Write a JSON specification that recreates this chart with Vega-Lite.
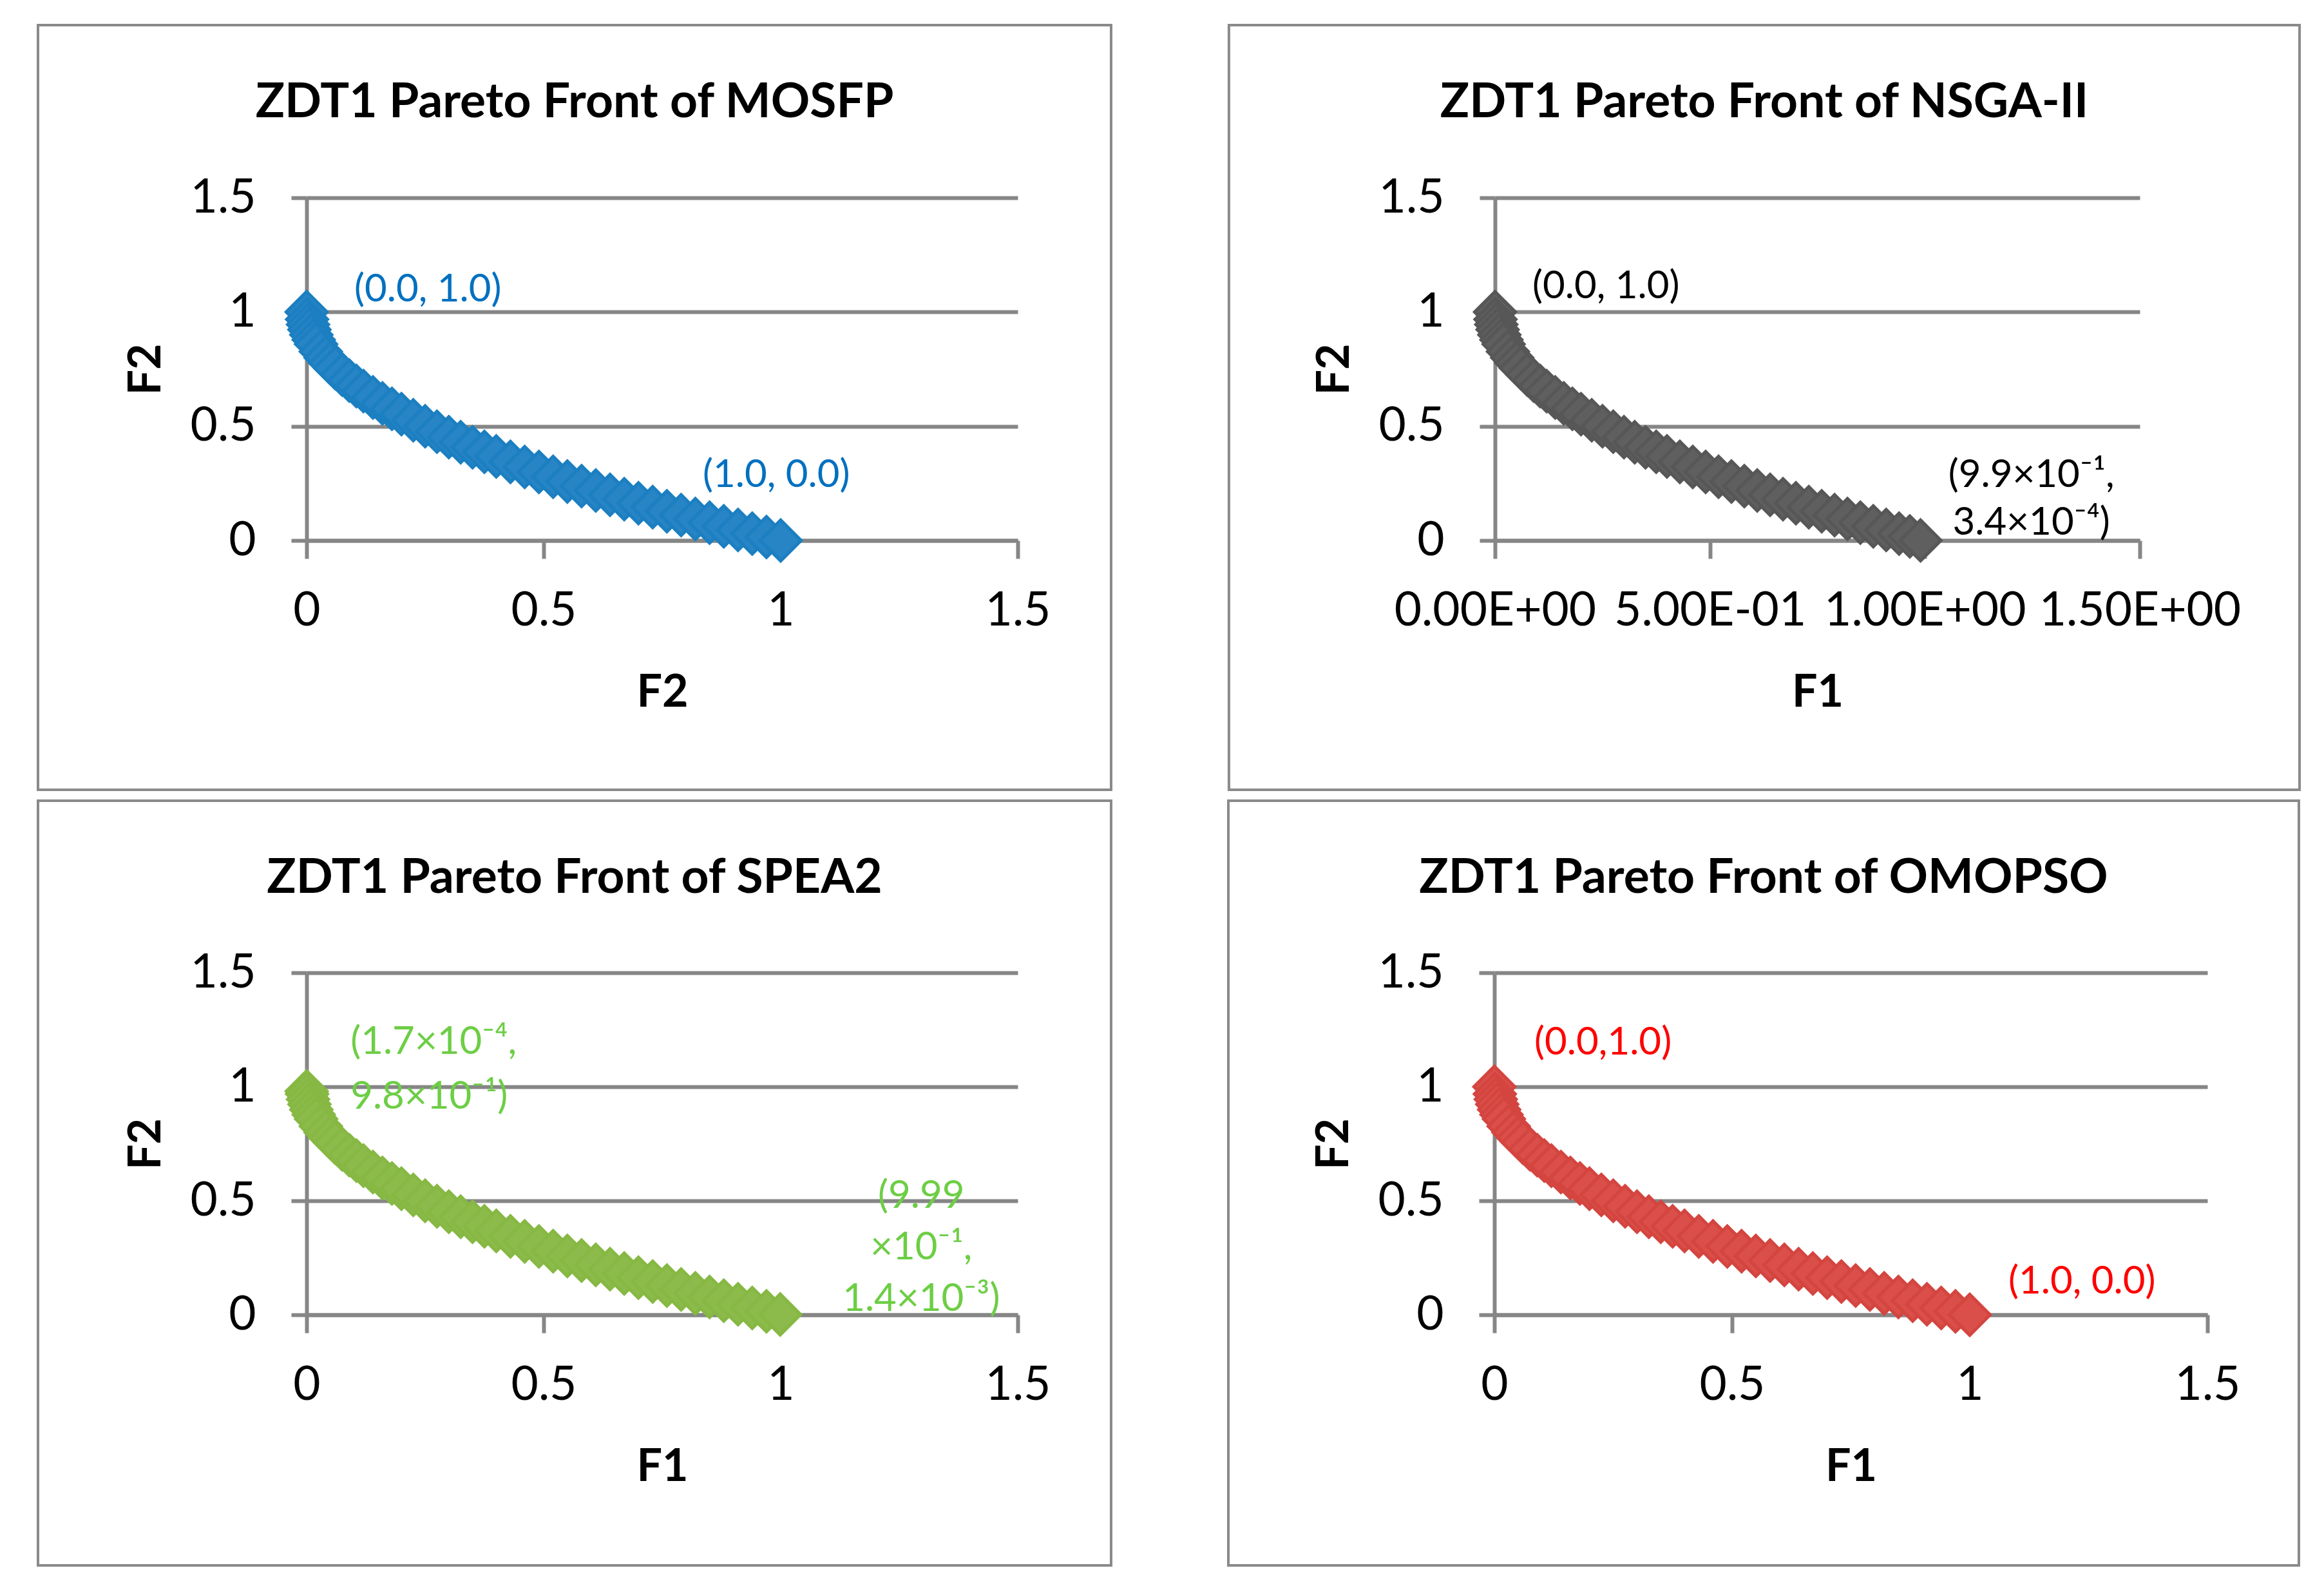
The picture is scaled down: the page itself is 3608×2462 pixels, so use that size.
{
  "$schema": "https://vega.github.io/schema/vega-lite/v6.json",
  "background": "white",
  "padding": {"left": 56, "top": 37, "right": 0, "bottom": 0},
  "config": {
    "view": {"stroke": null},
    "font": "Lato",
    "axis": {
      "domainColor": "#868686", "domainWidth": 6,
      "tickColor": "#868686", "tickWidth": 6,
      "gridColor": "#868686", "gridWidth": 6,
      "labelFont": "Lato", "labelFontSize": 73, "labelColor": "black", "labelLimit": 2000,
      "labelFlush": false, "labelOverlap": false, "labelBound": false,
      "titleFont": "Lato", "titleFontSize": 70, "titleFontWeight": "bold", "titleColor": "black"
    },
    "axisX": {"grid": false, "tickSize": 28, "labelPadding": 45, "titlePadding": 56},
    "axisY": {"grid": true, "tickSize": 24, "labelPadding": 55, "titlePadding": 32},
    "title": {"font": "Lato", "fontSize": 75, "fontWeight": "bold", "color": "black", "anchor": "middle", "frame": "bounds", "baseline": "alphabetic", "offset": -161}
  },
  "datasets": {
    "front": [
      {"alg": "MOSFP", "f1": 0, "f2": 1}, {"alg": "MOSFP", "f1": 0.001, "f2": 0.968}, {"alg": "MOSFP", "f1": 0.003, "f2": 0.945}, {"alg": "MOSFP", "f1": 0.006, "f2": 0.923}, {"alg": "MOSFP", "f1": 0.01, "f2": 0.9}, {"alg": "MOSFP", "f1": 0.015, "f2": 0.878}, {"alg": "MOSFP", "f1": 0.02, "f2": 0.859}, {"alg": "MOSFP", "f1": 0.03, "f2": 0.827}, {"alg": "MOSFP", "f1": 0.04, "f2": 0.8}, {"alg": "MOSFP", "f1": 0.05, "f2": 0.776}, {"alg": "MOSFP", "f1": 0.06, "f2": 0.755}, {"alg": "MOSFP", "f1": 0.075, "f2": 0.726}, {"alg": "MOSFP", "f1": 0.09, "f2": 0.7}, {"alg": "MOSFP", "f1": 0.105, "f2": 0.676}, {"alg": "MOSFP", "f1": 0.12, "f2": 0.654}, {"alg": "MOSFP", "f1": 0.14, "f2": 0.626}, {"alg": "MOSFP", "f1": 0.16, "f2": 0.6}, {"alg": "MOSFP", "f1": 0.18, "f2": 0.576}, {"alg": "MOSFP", "f1": 0.2, "f2": 0.553}, {"alg": "MOSFP", "f1": 0.225, "f2": 0.526}, {"alg": "MOSFP", "f1": 0.25, "f2": 0.5}, {"alg": "MOSFP", "f1": 0.275, "f2": 0.476}, {"alg": "MOSFP", "f1": 0.3, "f2": 0.452}, {"alg": "MOSFP", "f1": 0.325, "f2": 0.43}, {"alg": "MOSFP", "f1": 0.35, "f2": 0.408}, {"alg": "MOSFP", "f1": 0.375, "f2": 0.388}, {"alg": "MOSFP", "f1": 0.4, "f2": 0.368}, {"alg": "MOSFP", "f1": 0.43, "f2": 0.344}, {"alg": "MOSFP", "f1": 0.46, "f2": 0.322}, {"alg": "MOSFP", "f1": 0.49, "f2": 0.3}, {"alg": "MOSFP", "f1": 0.52, "f2": 0.279}, {"alg": "MOSFP", "f1": 0.55, "f2": 0.258}, {"alg": "MOSFP", "f1": 0.58, "f2": 0.238}, {"alg": "MOSFP", "f1": 0.61, "f2": 0.219}, {"alg": "MOSFP", "f1": 0.64, "f2": 0.2}, {"alg": "MOSFP", "f1": 0.67, "f2": 0.181}, {"alg": "MOSFP", "f1": 0.7, "f2": 0.163}, {"alg": "MOSFP", "f1": 0.73, "f2": 0.146}, {"alg": "MOSFP", "f1": 0.76, "f2": 0.128}, {"alg": "MOSFP", "f1": 0.79, "f2": 0.111}, {"alg": "MOSFP", "f1": 0.82, "f2": 0.094}, {"alg": "MOSFP", "f1": 0.85, "f2": 0.078}, {"alg": "MOSFP", "f1": 0.88, "f2": 0.062}, {"alg": "MOSFP", "f1": 0.91, "f2": 0.046}, {"alg": "MOSFP", "f1": 0.94, "f2": 0.03}, {"alg": "MOSFP", "f1": 0.97, "f2": 0.015}, {"alg": "MOSFP", "f1": 1.0, "f2": 0},
      {"alg": "NSGA-II", "f1": 0, "f2": 1}, {"alg": "NSGA-II", "f1": 0.001, "f2": 0.968}, {"alg": "NSGA-II", "f1": 0.003, "f2": 0.945}, {"alg": "NSGA-II", "f1": 0.006, "f2": 0.923}, {"alg": "NSGA-II", "f1": 0.01, "f2": 0.9}, {"alg": "NSGA-II", "f1": 0.015, "f2": 0.878}, {"alg": "NSGA-II", "f1": 0.02, "f2": 0.859}, {"alg": "NSGA-II", "f1": 0.03, "f2": 0.827}, {"alg": "NSGA-II", "f1": 0.04, "f2": 0.8}, {"alg": "NSGA-II", "f1": 0.05, "f2": 0.776}, {"alg": "NSGA-II", "f1": 0.06, "f2": 0.755}, {"alg": "NSGA-II", "f1": 0.075, "f2": 0.726}, {"alg": "NSGA-II", "f1": 0.09, "f2": 0.7}, {"alg": "NSGA-II", "f1": 0.105, "f2": 0.676}, {"alg": "NSGA-II", "f1": 0.12, "f2": 0.654}, {"alg": "NSGA-II", "f1": 0.14, "f2": 0.626}, {"alg": "NSGA-II", "f1": 0.16, "f2": 0.6}, {"alg": "NSGA-II", "f1": 0.18, "f2": 0.576}, {"alg": "NSGA-II", "f1": 0.2, "f2": 0.553}, {"alg": "NSGA-II", "f1": 0.225, "f2": 0.526}, {"alg": "NSGA-II", "f1": 0.25, "f2": 0.5}, {"alg": "NSGA-II", "f1": 0.275, "f2": 0.476}, {"alg": "NSGA-II", "f1": 0.3, "f2": 0.452}, {"alg": "NSGA-II", "f1": 0.325, "f2": 0.43}, {"alg": "NSGA-II", "f1": 0.35, "f2": 0.408}, {"alg": "NSGA-II", "f1": 0.375, "f2": 0.388}, {"alg": "NSGA-II", "f1": 0.4, "f2": 0.368}, {"alg": "NSGA-II", "f1": 0.43, "f2": 0.344}, {"alg": "NSGA-II", "f1": 0.46, "f2": 0.322}, {"alg": "NSGA-II", "f1": 0.49, "f2": 0.3}, {"alg": "NSGA-II", "f1": 0.52, "f2": 0.279}, {"alg": "NSGA-II", "f1": 0.55, "f2": 0.258}, {"alg": "NSGA-II", "f1": 0.58, "f2": 0.238}, {"alg": "NSGA-II", "f1": 0.61, "f2": 0.219}, {"alg": "NSGA-II", "f1": 0.64, "f2": 0.2}, {"alg": "NSGA-II", "f1": 0.67, "f2": 0.181}, {"alg": "NSGA-II", "f1": 0.7, "f2": 0.163}, {"alg": "NSGA-II", "f1": 0.73, "f2": 0.146}, {"alg": "NSGA-II", "f1": 0.76, "f2": 0.128}, {"alg": "NSGA-II", "f1": 0.79, "f2": 0.111}, {"alg": "NSGA-II", "f1": 0.82, "f2": 0.094}, {"alg": "NSGA-II", "f1": 0.85, "f2": 0.078}, {"alg": "NSGA-II", "f1": 0.88, "f2": 0.062}, {"alg": "NSGA-II", "f1": 0.91, "f2": 0.046}, {"alg": "NSGA-II", "f1": 0.94, "f2": 0.03}, {"alg": "NSGA-II", "f1": 0.965, "f2": 0.018}, {"alg": "NSGA-II", "f1": 0.99, "f2": 0.00034},
      {"alg": "SPEA2", "f1": 0.00017, "f2": 0.98}, {"alg": "SPEA2", "f1": 0.001, "f2": 0.968}, {"alg": "SPEA2", "f1": 0.003, "f2": 0.945}, {"alg": "SPEA2", "f1": 0.006, "f2": 0.923}, {"alg": "SPEA2", "f1": 0.01, "f2": 0.9}, {"alg": "SPEA2", "f1": 0.015, "f2": 0.878}, {"alg": "SPEA2", "f1": 0.02, "f2": 0.859}, {"alg": "SPEA2", "f1": 0.03, "f2": 0.827}, {"alg": "SPEA2", "f1": 0.04, "f2": 0.8}, {"alg": "SPEA2", "f1": 0.05, "f2": 0.776}, {"alg": "SPEA2", "f1": 0.06, "f2": 0.755}, {"alg": "SPEA2", "f1": 0.075, "f2": 0.726}, {"alg": "SPEA2", "f1": 0.09, "f2": 0.7}, {"alg": "SPEA2", "f1": 0.105, "f2": 0.676}, {"alg": "SPEA2", "f1": 0.12, "f2": 0.654}, {"alg": "SPEA2", "f1": 0.14, "f2": 0.626}, {"alg": "SPEA2", "f1": 0.16, "f2": 0.6}, {"alg": "SPEA2", "f1": 0.18, "f2": 0.576}, {"alg": "SPEA2", "f1": 0.2, "f2": 0.553}, {"alg": "SPEA2", "f1": 0.225, "f2": 0.526}, {"alg": "SPEA2", "f1": 0.25, "f2": 0.5}, {"alg": "SPEA2", "f1": 0.275, "f2": 0.476}, {"alg": "SPEA2", "f1": 0.3, "f2": 0.452}, {"alg": "SPEA2", "f1": 0.325, "f2": 0.43}, {"alg": "SPEA2", "f1": 0.35, "f2": 0.408}, {"alg": "SPEA2", "f1": 0.375, "f2": 0.388}, {"alg": "SPEA2", "f1": 0.4, "f2": 0.368}, {"alg": "SPEA2", "f1": 0.43, "f2": 0.344}, {"alg": "SPEA2", "f1": 0.46, "f2": 0.322}, {"alg": "SPEA2", "f1": 0.49, "f2": 0.3}, {"alg": "SPEA2", "f1": 0.52, "f2": 0.279}, {"alg": "SPEA2", "f1": 0.55, "f2": 0.258}, {"alg": "SPEA2", "f1": 0.58, "f2": 0.238}, {"alg": "SPEA2", "f1": 0.61, "f2": 0.219}, {"alg": "SPEA2", "f1": 0.64, "f2": 0.2}, {"alg": "SPEA2", "f1": 0.67, "f2": 0.181}, {"alg": "SPEA2", "f1": 0.7, "f2": 0.163}, {"alg": "SPEA2", "f1": 0.73, "f2": 0.146}, {"alg": "SPEA2", "f1": 0.76, "f2": 0.128}, {"alg": "SPEA2", "f1": 0.79, "f2": 0.111}, {"alg": "SPEA2", "f1": 0.82, "f2": 0.094}, {"alg": "SPEA2", "f1": 0.85, "f2": 0.078}, {"alg": "SPEA2", "f1": 0.88, "f2": 0.062}, {"alg": "SPEA2", "f1": 0.91, "f2": 0.046}, {"alg": "SPEA2", "f1": 0.94, "f2": 0.03}, {"alg": "SPEA2", "f1": 0.97, "f2": 0.015}, {"alg": "SPEA2", "f1": 0.999, "f2": 0.0014},
      {"alg": "OMOPSO", "f1": 0, "f2": 1}, {"alg": "OMOPSO", "f1": 0.001, "f2": 0.968}, {"alg": "OMOPSO", "f1": 0.003, "f2": 0.945}, {"alg": "OMOPSO", "f1": 0.006, "f2": 0.923}, {"alg": "OMOPSO", "f1": 0.01, "f2": 0.9}, {"alg": "OMOPSO", "f1": 0.015, "f2": 0.878}, {"alg": "OMOPSO", "f1": 0.02, "f2": 0.859}, {"alg": "OMOPSO", "f1": 0.03, "f2": 0.827}, {"alg": "OMOPSO", "f1": 0.04, "f2": 0.8}, {"alg": "OMOPSO", "f1": 0.05, "f2": 0.776}, {"alg": "OMOPSO", "f1": 0.06, "f2": 0.755}, {"alg": "OMOPSO", "f1": 0.075, "f2": 0.726}, {"alg": "OMOPSO", "f1": 0.09, "f2": 0.7}, {"alg": "OMOPSO", "f1": 0.105, "f2": 0.676}, {"alg": "OMOPSO", "f1": 0.12, "f2": 0.654}, {"alg": "OMOPSO", "f1": 0.14, "f2": 0.626}, {"alg": "OMOPSO", "f1": 0.16, "f2": 0.6}, {"alg": "OMOPSO", "f1": 0.18, "f2": 0.576}, {"alg": "OMOPSO", "f1": 0.2, "f2": 0.553}, {"alg": "OMOPSO", "f1": 0.225, "f2": 0.526}, {"alg": "OMOPSO", "f1": 0.25, "f2": 0.5}, {"alg": "OMOPSO", "f1": 0.275, "f2": 0.476}, {"alg": "OMOPSO", "f1": 0.3, "f2": 0.452}, {"alg": "OMOPSO", "f1": 0.325, "f2": 0.43}, {"alg": "OMOPSO", "f1": 0.35, "f2": 0.408}, {"alg": "OMOPSO", "f1": 0.375, "f2": 0.388}, {"alg": "OMOPSO", "f1": 0.4, "f2": 0.368}, {"alg": "OMOPSO", "f1": 0.43, "f2": 0.344}, {"alg": "OMOPSO", "f1": 0.46, "f2": 0.322}, {"alg": "OMOPSO", "f1": 0.49, "f2": 0.3}, {"alg": "OMOPSO", "f1": 0.52, "f2": 0.279}, {"alg": "OMOPSO", "f1": 0.55, "f2": 0.258}, {"alg": "OMOPSO", "f1": 0.58, "f2": 0.238}, {"alg": "OMOPSO", "f1": 0.61, "f2": 0.219}, {"alg": "OMOPSO", "f1": 0.64, "f2": 0.2}, {"alg": "OMOPSO", "f1": 0.67, "f2": 0.181}, {"alg": "OMOPSO", "f1": 0.7, "f2": 0.163}, {"alg": "OMOPSO", "f1": 0.73, "f2": 0.146}, {"alg": "OMOPSO", "f1": 0.76, "f2": 0.128}, {"alg": "OMOPSO", "f1": 0.79, "f2": 0.111}, {"alg": "OMOPSO", "f1": 0.82, "f2": 0.094}, {"alg": "OMOPSO", "f1": 0.85, "f2": 0.078}, {"alg": "OMOPSO", "f1": 0.88, "f2": 0.062}, {"alg": "OMOPSO", "f1": 0.91, "f2": 0.046}, {"alg": "OMOPSO", "f1": 0.94, "f2": 0.03}, {"alg": "OMOPSO", "f1": 0.97, "f2": 0.015}, {"alg": "OMOPSO", "f1": 1.0, "f2": 0}
    ],
    "labels": [
      {"alg": "MOSFP", "end": "first", "f1": 0, "f2": 1, "label": "(0.0, 1.0)"},
      {"alg": "MOSFP", "end": "last", "f1": 1.0, "f2": 0, "label": "(1.0, 0.0)"},
      {"alg": "NSGA-II", "end": "first", "f1": 0, "f2": 1, "label": "(0.0, 1.0)"},
      {"alg": "NSGA-II", "end": "last", "f1": 0.99, "f2": 0.00034, "label": "(9.9×10⁻¹,\n3.4×10⁻⁴)"},
      {"alg": "SPEA2", "end": "first", "f1": 0.00017, "f2": 0.98, "label": "(1.7×10⁻⁴,\n9.8×10⁻¹)"},
      {"alg": "SPEA2", "end": "last", "f1": 0.999, "f2": 0.0014, "label": "(9.99\n×10⁻¹,\n1.4×10⁻³)"},
      {"alg": "OMOPSO", "end": "first", "f1": 0, "f2": 1, "label": "(0.0,1.0)"},
      {"alg": "OMOPSO", "end": "last", "f1": 1.0, "f2": 0, "label": "(1.0, 0.0)"}
    ]
  },
  "spacing": 12,
  "vconcat": [
    {
      "spacing": 178,
      "hconcat": [
        {
          "width": 1104, "height": 532,
          "title": {"text": "ZDT1 Pareto Front of MOSFP"},
          "encoding": {
            "x": {"field": "f1", "type": "quantitative", "scale": {"domain": [0, 1.5], "nice": false}, "axis": {"title": "F2", "values": [0, 0.5, 1, 1.5], "format": "~g"}},
            "y": {"field": "f2", "type": "quantitative", "scale": {"domain": [0, 1.5], "nice": false}, "axis": {"title": "F2", "values": [0, 0.5, 1, 1.5], "format": "~g"}}
          },
          "layer": [
            {"data": {"name": "front"}, "transform": [{"filter": "datum.alg == 'MOSFP' && datum.f1 == 0"}],
             "mark": {"type": "rect", "filled": false, "stroke": "#8a8a8a", "strokeWidth": 4, "clip": false},
             "encoding": {"x": {"datum": -0.5666}, "x2": {"datum": 1.697}, "y": {"datum": 2.2556}, "y2": {"datum": -1.0912}}},
            {"data": {"name": "front"}, "transform": [{"filter": "datum.alg == 'MOSFP'"}],
             "mark": {"type": "point", "shape": "diamond", "filled": true, "size": 4000, "fill": "#2784c5", "stroke": "#1b7fc1", "strokeWidth": 5, "opacity": 1}},
            {"data": {"name": "labels"}, "transform": [{"filter": "datum.alg == 'MOSFP' && datum.end == 'first'"}],
             "mark": {"type": "text", "align": "left", "baseline": "middle", "dx": 74, "dy": -34, "fontSize": 60, "font": "Lato", "color": "#0070c0", "lineBreak": "\n"},
             "encoding": {"text": {"field": "label"}}},
            {"data": {"name": "labels"}, "transform": [{"filter": "datum.alg == 'MOSFP' && datum.end == 'last'"}],
             "mark": {"type": "text", "align": "left", "baseline": "middle", "dx": -121, "dy": -101, "fontSize": 60, "font": "Lato", "color": "#0070c0", "lineBreak": "\n"},
             "encoding": {"text": {"field": "label"}}}
          ]
        },
        {
          "width": 1001, "height": 532,
          "title": {"text": "ZDT1 Pareto Front of NSGA-II"},
          "encoding": {
            "x": {"field": "f1", "type": "quantitative", "scale": {"domain": [0, 1.5], "nice": false}, "axis": {"title": "F1", "values": [0, 0.5, 1, 1.5], "labelExpr": "datum.value == 0 ? '0.00E+00' : datum.value == 0.5 ? '5.00E-01' : datum.value == 1 ? '1.00E+00' : '1.50E+00'"}},
            "y": {"field": "f2", "type": "quantitative", "scale": {"domain": [0, 1.5], "nice": false}, "axis": {"title": "F2", "values": [0, 0.5, 1, 1.5], "format": "~g"}}
          },
          "layer": [
            {"data": {"name": "front"}, "transform": [{"filter": "datum.alg == 'NSGA-II' && datum.f1 == 0"}],
             "mark": {"type": "rect", "filled": false, "stroke": "#8a8a8a", "strokeWidth": 4, "clip": false},
             "encoding": {"x": {"datum": -0.619}, "x2": {"datum": 1.8717}, "y": {"datum": 2.2556}, "y2": {"datum": -1.0912}}},
            {"data": {"name": "front"}, "transform": [{"filter": "datum.alg == 'NSGA-II'"}],
             "mark": {"type": "point", "shape": "diamond", "filled": true, "size": 4000, "fill": "#5f5f5f", "stroke": "#575757", "strokeWidth": 5, "opacity": 1}},
            {"data": {"name": "labels"}, "transform": [{"filter": "datum.alg == 'NSGA-II' && datum.end == 'first'"}],
             "mark": {"type": "text", "align": "left", "baseline": "middle", "dx": 58, "dy": -39, "fontSize": 60, "font": "Lato", "color": "black", "lineBreak": "\n"},
             "encoding": {"text": {"field": "label"}}},
            {"data": {"name": "labels"}, "transform": [{"filter": "datum.alg == 'NSGA-II' && datum.end == 'last'"}],
             "mark": {"type": "text", "align": "center", "baseline": "middle", "dx": 172, "dy": -101, "fontSize": 60, "font": "Lato", "color": "black", "lineBreak": "\n", "lineHeight": 74},
             "encoding": {"text": {"field": "label"}}}
          ]
        }
      ]
    },
    {
      "spacing": 178,
      "hconcat": [
        {
          "width": 1104, "height": 531,
          "title": {"text": "ZDT1 Pareto Front of SPEA2"},
          "encoding": {
            "x": {"field": "f1", "type": "quantitative", "scale": {"domain": [0, 1.5], "nice": false}, "axis": {"title": "F1", "values": [0, 0.5, 1, 1.5], "format": "~g"}},
            "y": {"field": "f2", "type": "quantitative", "scale": {"domain": [0, 1.5], "nice": false}, "axis": {"title": "F2", "values": [0, 0.5, 1, 1.5], "format": "~g"}}
          },
          "layer": [
            {"data": {"name": "front"}, "transform": [{"filter": "datum.alg == 'SPEA2' && datum.f1 == 0.00017"}],
             "mark": {"type": "rect", "filled": false, "stroke": "#8a8a8a", "strokeWidth": 4, "clip": false},
             "encoding": {"x": {"datum": -0.5666}, "x2": {"datum": 1.697}, "y": {"datum": 2.254}, "y2": {"datum": -1.099}}},
            {"data": {"name": "front"}, "transform": [{"filter": "datum.alg == 'SPEA2'"}],
             "mark": {"type": "point", "shape": "diamond", "filled": true, "size": 4000, "fill": "#8cbb4c", "stroke": "#86b843", "strokeWidth": 5, "opacity": 1}},
            {"data": {"name": "labels"}, "transform": [{"filter": "datum.alg == 'SPEA2' && datum.end == 'first'"}],
             "mark": {"type": "text", "align": "left", "baseline": "middle", "dx": 68, "dy": -76, "fontSize": 60, "font": "Lato", "color": "#6dce45", "lineBreak": "\n", "lineHeight": 85},
             "encoding": {"text": {"field": "label"}}},
            {"data": {"name": "labels"}, "transform": [{"filter": "datum.alg == 'SPEA2' && datum.end == 'last'"}],
             "mark": {"type": "text", "align": "center", "baseline": "middle", "dx": 219, "dy": -184, "fontSize": 60, "font": "Lato", "color": "#6dce45", "lineBreak": "\n", "lineHeight": 80},
             "encoding": {"text": {"field": "label"}}}
          ]
        },
        {
          "width": 1107, "height": 531,
          "title": {"text": "ZDT1 Pareto Front of OMOPSO"},
          "encoding": {
            "x": {"field": "f1", "type": "quantitative", "scale": {"domain": [0, 1.5], "nice": false}, "axis": {"title": "F1", "values": [0, 0.5, 1, 1.5], "format": "~g"}},
            "y": {"field": "f2", "type": "quantitative", "scale": {"domain": [0, 1.5], "nice": false}, "axis": {"title": "F2", "values": [0, 0.5, 1, 1.5], "format": "~g"}}
          },
          "layer": [
            {"data": {"name": "front"}, "transform": [{"filter": "datum.alg == 'OMOPSO' && datum.f1 == 0"}],
             "mark": {"type": "rect", "filled": false, "stroke": "#8a8a8a", "strokeWidth": 4, "clip": false},
             "encoding": {"x": {"datum": -0.5596}, "x2": {"datum": 1.6924}, "y": {"datum": 2.254}, "y2": {"datum": -1.099}}},
            {"data": {"name": "front"}, "transform": [{"filter": "datum.alg == 'OMOPSO'"}],
             "mark": {"type": "point", "shape": "diamond", "filled": true, "size": 4000, "fill": "#da4f49", "stroke": "#d44540", "strokeWidth": 5, "opacity": 1}},
            {"data": {"name": "labels"}, "transform": [{"filter": "datum.alg == 'OMOPSO' && datum.end == 'first'"}],
             "mark": {"type": "text", "align": "left", "baseline": "middle", "dx": 62, "dy": -68, "fontSize": 60, "font": "Lato", "color": "#ff0000", "lineBreak": "\n"},
             "encoding": {"text": {"field": "label"}}},
            {"data": {"name": "labels"}, "transform": [{"filter": "datum.alg == 'OMOPSO' && datum.end == 'last'"}],
             "mark": {"type": "text", "align": "left", "baseline": "middle", "dx": 60, "dy": -51, "fontSize": 60, "font": "Lato", "color": "#ff0000", "lineBreak": "\n"},
             "encoding": {"text": {"field": "label"}}}
          ]
        }
      ]
    }
  ]
}
